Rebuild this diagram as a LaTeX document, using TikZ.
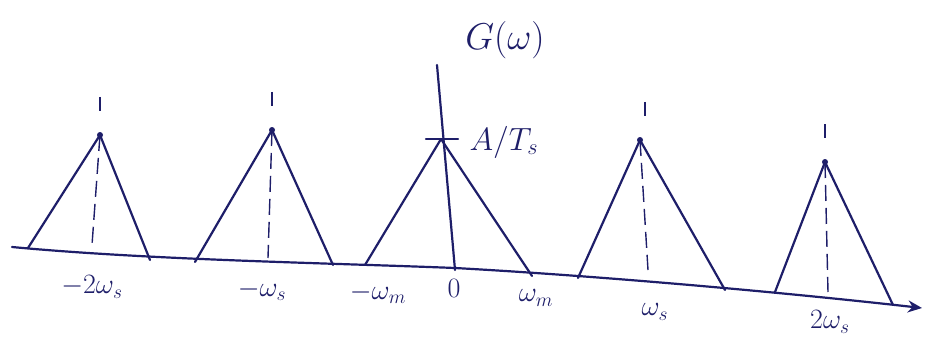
\documentclass[tikz,border=0pt]{standalone}
\usepackage{graphicx}
\usetikzlibrary{arrows.meta}
\definecolor{ink}{RGB}{30,30,105}
\newcommand{\biglab}[2]{\scalebox{#1}{\fontsize{20}{24}\selectfont #2}}
\tikzset{
  pen/.style={draw=ink, line width=2.2pt, line cap=round, line join=round},
  centre/.style={draw=ink, line width=1.4pt, dash pattern=on 16pt off 7pt},
  lbl/.style={text=ink, inner sep=1pt}
}
\begin{document}
\begin{tikzpicture}[x=1pt,y=-1pt]
\useasboundingbox[fill=white] (0,0) rectangle (938,337);
% axis
\coordinate (a0) at (12,247);
\coordinate (a9) at (922,308);
\draw[pen, -{Stealth[length=14pt,width=12pt]}] (a0) .. controls (150,260) and (330,263) .. (455,268)
   .. controls (600,276) and (780,292) .. (a9);
% vertical axis
\coordinate (vtop) at (437,65);
\coordinate (vbot) at (455,270);
\draw[pen] (vtop) -- (vbot);
% triangles: apex, left base, right base
\foreach \n/\ax/\ay/\lx/\ly/\rx/\ry/\tx/\bx/\by in {
  t1/100/135/28/248/150/260/100/92/245,
  t2/272/130/195/262/333/265/272/268/258,
  t4/640/140/578/278/725/290/645/648/270,
  t5/825/162/775/292/893/305/825/828/292}{
  \coordinate (\n apex) at (\ax,\ay);
  \coordinate (\n l) at (\lx,\ly);
  \coordinate (\n r) at (\rx,\ry);
  \coordinate (\n base) at (\bx,\by);
  \coordinate (\n tick) at (\tx,\ay-38);
  \draw[pen] (\n l) -- (\n apex) -- (\n r);
  \draw[centre] (\n apex) -- (\n base);
  \draw[draw=ink, line width=1.4pt] (\n tick) -- ++(0,14);
  \fill[ink] (\n apex) circle (3pt);
}
% central triangle
\coordinate (t3apex) at (441,139);
\coordinate (t3l) at (365,265);
\coordinate (t3r) at (532,276);
\draw[pen] (t3l) -- (t3apex) -- (t3r);
\draw[pen] (426,139) -- (458,139);
% labels
\node[lbl] (g) at (505,40) {\biglab{1.8}{$G(\omega)$}};
\node[lbl] (amp) at (504,142) {\biglab{1.55}{$A/T_s$}};
\node[lbl] (m2s) at (92,287) {\biglab{1.35}{$-2\omega_s$}};
\node[lbl] (m1s) at (262,290) {\biglab{1.35}{$-\omega_s$}};
\node[lbl] (mm) at (378,293) {\biglab{1.35}{$-\omega_m$}};
\node[lbl] (zero) at (454,288) {\biglab{1.35}{$0$}};
\node[lbl] (pm) at (536,298) {\biglab{1.35}{$\omega_m$}};
\node[lbl] (p1s) at (655,312) {\biglab{1.35}{$\omega_s$}};
\node[lbl] (p2s) at (830,322) {\biglab{1.35}{$2\omega_s$}};
\end{tikzpicture}
\end{document}
